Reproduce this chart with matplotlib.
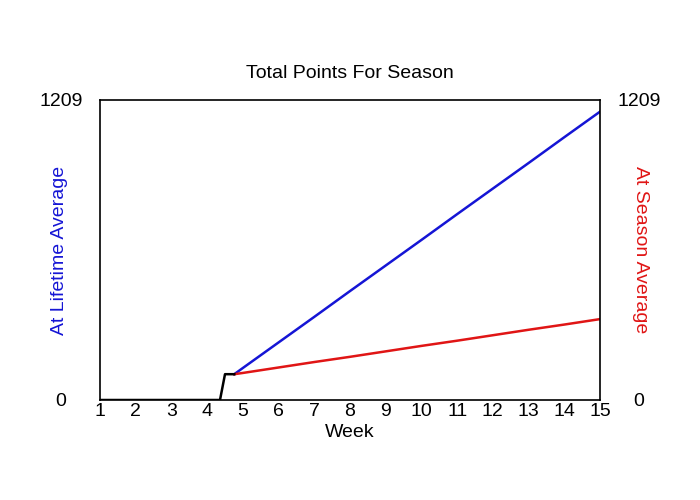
import matplotlib
matplotlib.use("Agg")
import matplotlib.pyplot as plt

weeks_black = [1, 4.36, 4.5, 4.76]
vals_black = [0, 0, 104, 104]

weeks_line = [4.76, 5, 6, 7, 8, 9, 10, 11, 12, 13, 14, 15]
lifetime_avg = [104, 129, 232, 335, 439, 542, 645, 749, 852, 955, 1059, 1162]
season_avg = [104, 109, 131, 153, 174, 196, 218, 239, 261, 283, 304, 326]

x_ticks = list(range(1, 16))
y_max = 1209

plt.rcParams['font.family'] = ['Liberation Sans', 'DejaVu Sans']
FS = 14

fig = plt.figure(figsize=(7, 5), dpi=100)
ax = fig.add_axes([100/700, 0.2, 0.5/0.7, 0.6])

ax.plot(weeks_line, lifetime_avg, color='#1515d5', lw=1.8)
ax.plot(weeks_line, season_avg, color='#e01515', lw=1.8)
ax.plot(weeks_black, vals_black, color='black', lw=1.8)

ax.set_xlim(1, 15)
ax.set_ylim(0, y_max)
ax.set_xticks(x_ticks)
ax.set_xticklabels([str(t) for t in x_ticks], fontsize=FS)
ax.tick_params(axis='x', length=0, pad=2)
ax.set_yticks([0, y_max])
ax.set_yticklabels(['0', str(y_max)], fontsize=FS)
ax.tick_params(axis='y', length=0, labelright=True, right=False)
for t in ax.yaxis.get_major_ticks():
    t.label1.set_horizontalalignment('center')
    t.label2.set_horizontalalignment('center')
    t.label2.set_fontsize(FS)
    t.set_pad(28)

ax.set_xlabel('Week', fontsize=FS, labelpad=3)
ax.set_title('Total Points For Season', fontsize=FS, pad=16)

fig.text(60/700, 0.5, 'At Lifetime Average', color='#1515d5', fontsize=FS,
         rotation=90, ha='center', va='center')
fig.text(640/700, 0.5, 'At Season Average', color='#e01515', fontsize=FS,
         rotation=-90, ha='center', va='center')

for s in ax.spines.values():
    s.set_linewidth(1.2)

fig.savefig('out.png', dpi=100)
